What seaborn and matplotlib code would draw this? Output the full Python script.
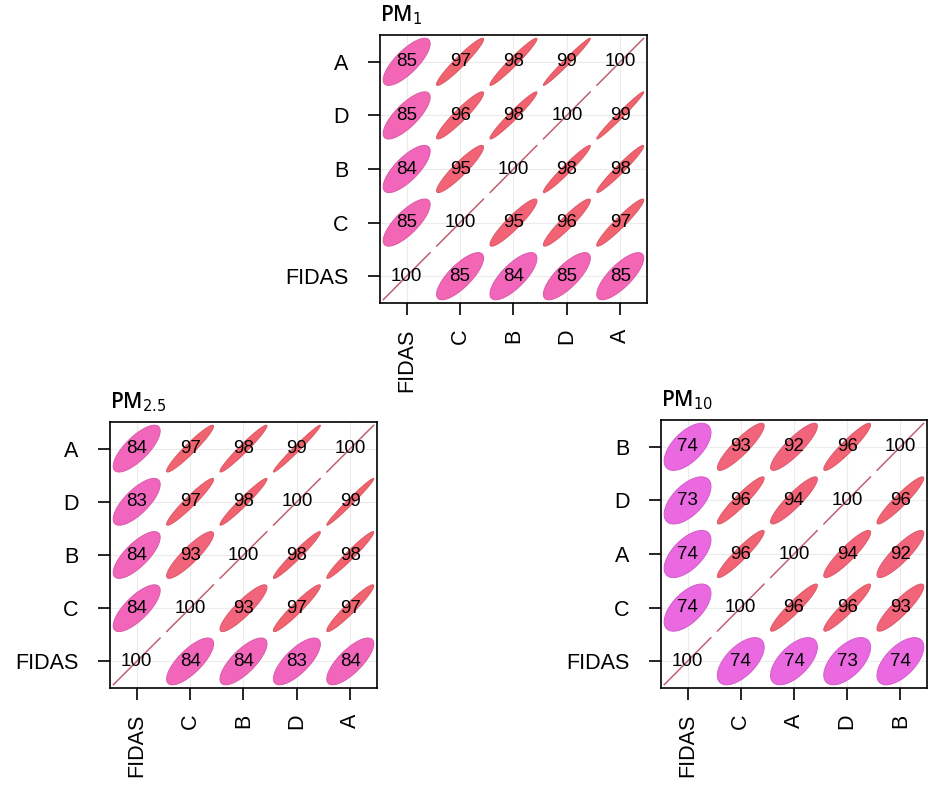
import numpy as np
import matplotlib
matplotlib.use('Agg')
import matplotlib.pyplot as plt
import seaborn as sns
from matplotlib.patches import Polygon
from matplotlib.colors import LinearSegmentedColormap
from matplotlib import font_manager

# Données : corrélations (%) entre capteurs, lignes de bas en haut
labels_pm1 = ['FIDAS', 'C', 'B', 'D', 'A']
corr_pm1 = [
    [100, 85, 84, 85, 85],   # FIDAS
    [85, 100, 95, 96, 97],   # C
    [84, 95, 100, 98, 98],   # B
    [85, 96, 98, 100, 99],   # D
    [85, 97, 98, 99, 100],   # A
]

labels_pm25 = ['FIDAS', 'C', 'B', 'D', 'A']
corr_pm25 = [
    [100, 84, 84, 83, 84],
    [84, 100, 93, 97, 97],
    [84, 93, 100, 98, 98],
    [83, 97, 98, 100, 99],
    [84, 97, 98, 99, 100],
]

labels_pm10 = ['FIDAS', 'C', 'A', 'D', 'B']
corr_pm10 = [
    [100, 74, 74, 73, 74],
    [74, 100, 96, 96, 93],
    [74, 96, 100, 94, 92],
    [73, 96, 94, 100, 96],
    [74, 93, 92, 96, 100],
]

titles = [r'PM$_1$', r'PM$_{2.5}$', r'PM$_{10}$']

sns.set_theme(style='whitegrid')
plt.rcParams['font.family'] = ['Liberation Sans', 'DejaVu Sans']

# police étroite pour les valeurs si disponible
noms = {f.name for f in font_manager.fontManager.ttflist}
if 'Liberation Sans Narrow' in noms:
    police_num, taille_num = 'Liberation Sans Narrow', 15
elif 'DejaVu Sans Condensed' in noms:
    police_num, taille_num = 'DejaVu Sans Condensed', 13
else:
    police_num, taille_num = 'Liberation Sans', 13.5

# palette : magenta (faible) -> rose -> rouge saumon (fort)
cmap = LinearSegmentedColormap.from_list(
    'corr', [(0.0, '#ea68e0'), (0.15, '#ea68e0'), (0.5, '#f266b6'),
             (0.72, '#f2647c'), (0.97, '#f2626c'), (1.0, '#b86070')])


def couleur(r):
    return cmap(np.clip((r - 0.70) / 0.30, 0, 1))


def ellipse(r, cx, cy, scale=0.44, n=120):
    d = 1.25 * np.arccos(np.clip(r, -1, 1))
    t = np.linspace(0, 2 * np.pi, n)
    x = cx + scale * np.cos(t + d / 2)
    y = cy + scale * np.cos(t - d / 2)
    return np.column_stack([x, y])


def tracer(ax, labels, corr, titre):
    n = len(labels)
    mat = np.array(corr) / 100.0
    for i in range(n):
        for j in range(n):
            r = mat[i, j]
            c = couleur(r)
            if r >= 0.999:
                ax.plot([j + 1 - 0.44, j + 1 + 0.44], [i + 1 - 0.44, i + 1 + 0.44],
                        color='#c06070', lw=1.1, zorder=2)
            else:
                edge = tuple(np.array(c[:3]) * 0.9)
                poly = Polygon(ellipse(r, j + 1, i + 1), closed=True,
                               facecolor=c, edgecolor=edge, lw=0.7, zorder=2)
                ax.add_patch(poly)
            ax.text(j + 1, i + 1, f'{corr[i][j]}', ha='center', va='center',
                    fontsize=taille_num, color='black', zorder=3,
                    family=[police_num, 'DejaVu Sans'])
    ax.set_xlim(0.5, n + 0.5)
    ax.set_ylim(0.5, n + 0.5)
    ax.set_xticks(range(1, n + 1))
    ax.set_yticks(range(1, n + 1))
    ax.set_xticklabels(labels, rotation=90, fontsize=15.5)
    ax.set_yticklabels(labels, fontsize=15.5)
    ax.tick_params(axis='both', which='both', direction='out', length=8.5,
                   width=1.2, color='black', labelcolor='black',
                   left=True, bottom=True, pad=10)
    ax.tick_params(axis='y', pad=14)
    ax.grid(True, color='#ebebeb', lw=0.8)
    for s in ax.spines.values():
        s.set_color('black')
        s.set_linewidth(1.2)
    ax.text(0.0, 1.03, titre, transform=ax.transAxes, ha='left', va='bottom',
            fontsize=15, color='black', family=['Open Sans', 'DejaVu Sans'],
            fontweight='semibold')


fig = plt.figure(figsize=(9.41, 7.94), dpi=100)
ax1 = fig.add_axes([0.4038, 0.6184, 0.2837, 0.3375])
ax2 = fig.add_axes([0.1169, 0.1335, 0.2837, 0.335])
ax3 = fig.add_axes([0.7024, 0.1335, 0.2827, 0.3375])

tracer(ax1, labels_pm1, corr_pm1, titles[0])
tracer(ax2, labels_pm25, corr_pm25, titles[1])
tracer(ax3, labels_pm10, corr_pm10, titles[2])

fig.savefig('out.png', dpi=100, facecolor='white')
